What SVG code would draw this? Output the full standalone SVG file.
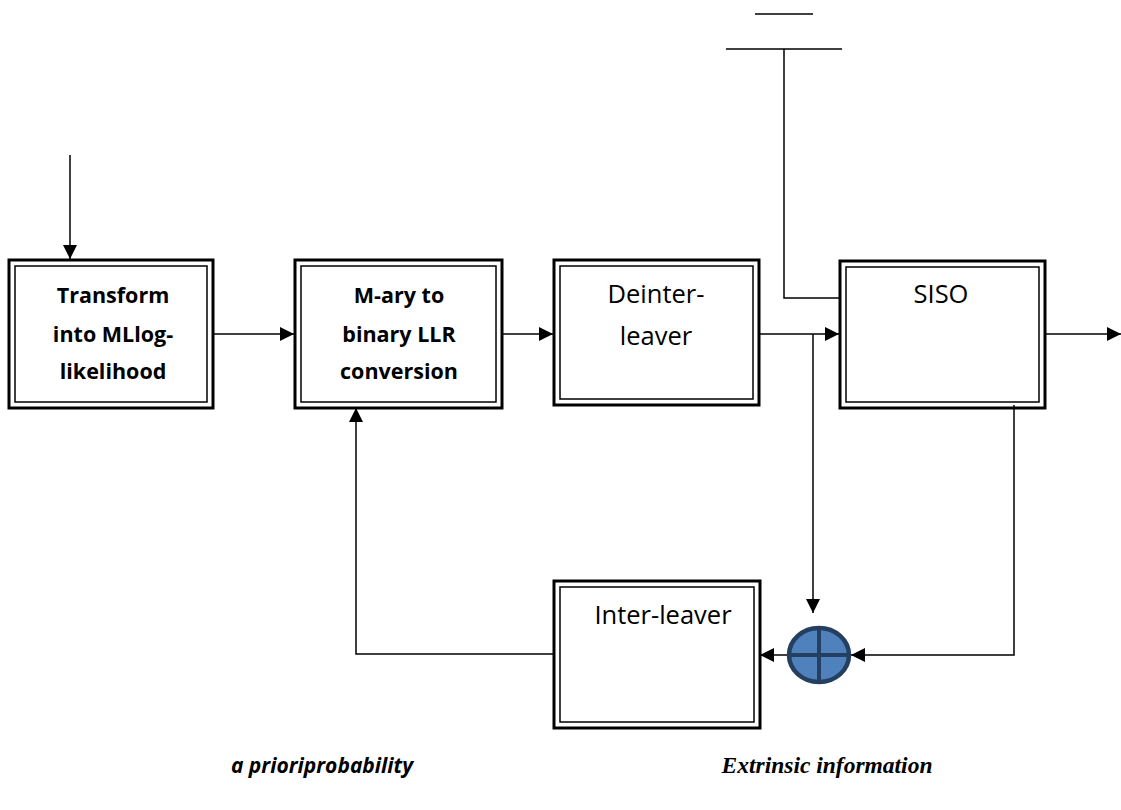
<svg xmlns="http://www.w3.org/2000/svg" width="1121" height="810" viewBox="0 0 1121 810">
<style>
.outer{fill:none;stroke:#000;stroke-width:3}
.inner{fill:none;stroke:#000;stroke-width:1.5}
.ln{fill:none;stroke:#000;stroke-width:1.5}
.b{font-family:"Open Sans","Noto Sans",sans-serif;font-weight:bold;font-size:21.5px;text-anchor:middle;fill:#000}
.r{font-family:"Open Sans","Noto Sans",sans-serif;font-size:25.5px;text-anchor:middle;fill:#000}
</style>
<defs>
<marker id="ah2" viewBox="0 0 10 10" refX="10" refY="5" markerWidth="14" markerHeight="14" markerUnits="userSpaceOnUse" orient="auto">
<path d="M0,0 L10,5 L0,10 z" fill="#000"/>
</marker>
</defs>
<g id="connectors">
<line class="ln" x1="755" y1="14" x2="813" y2="14"/>
<line class="ln" x1="726" y1="49" x2="842" y2="49"/>
<polyline class="ln" points="784,49 784,298 839,298"/>
<line class="ln" x1="70" y1="155" x2="70" y2="259" marker-end="url(#ah2)"/>
<line class="ln" x1="213" y1="334" x2="294" y2="334" marker-end="url(#ah2)"/>
<line class="ln" x1="502" y1="334" x2="553" y2="334" marker-end="url(#ah2)"/>
<line class="ln" x1="759" y1="334" x2="839" y2="334" marker-end="url(#ah2)"/>
<polyline class="ln" points="813,334 813,613" marker-end="url(#ah2)"/>
<line class="ln" x1="1045" y1="334" x2="1121" y2="334" marker-end="url(#ah2)"/>
<polyline class="ln" points="1014,405 1014,655 851,655" marker-end="url(#ah2)"/>
<line class="ln" x1="787" y1="655" x2="760" y2="655" marker-end="url(#ah2)"/>
<polyline class="ln" points="553,654 356,654 356,408" marker-end="url(#ah2)"/>
</g>
<g id="transform">
<rect class="outer" x="9" y="260" width="204" height="148"/>
<rect class="inner" x="15" y="266" width="192" height="136"/>
<text class="b" x="113" y="303">Transform</text>
<text class="b" x="113" y="342">into MLlog-</text>
<text class="b" x="113" y="379">likelihood</text>
</g>
<g id="mary">
<rect class="outer" x="295" y="260" width="207" height="148"/>
<rect class="inner" x="301" y="266" width="195" height="136"/>
<text class="b" x="399" y="303">M-ary to</text>
<text class="b" x="399" y="342">binary LLR</text>
<text class="b" x="399" y="379">conversion</text>
</g>
<g id="deinterleaver">
<rect class="outer" x="554" y="260" width="205" height="145"/>
<rect class="inner" x="560" y="266" width="193" height="133"/>
<text class="r" x="656" y="303">Deinter-</text>
<text class="r" x="656" y="345">leaver</text>
</g>
<g id="siso">
<rect class="outer" x="840" y="261" width="205" height="147"/>
<rect class="inner" x="846" y="267" width="193" height="135"/>
<text class="r" x="941" y="303">SISO</text>
</g>
<g id="interleaver">
<rect class="outer" x="554" y="581" width="206" height="147"/>
<rect class="inner" x="560" y="587" width="194" height="135"/>
<text class="r" x="663" y="624">Inter-leaver</text>
</g>
<g id="adder">
<ellipse cx="819" cy="655" rx="30" ry="27" fill="#4f81bd" stroke="#243f60" stroke-width="4.5"/>
<line x1="819" y1="628" x2="819" y2="682" stroke="#243f60" stroke-width="4"/>
<line x1="789" y1="655" x2="849" y2="655" stroke="#243f60" stroke-width="4"/>
</g>
<g id="labels">
<text x="322" y="773" font-family="'Open Sans','Noto Sans',sans-serif" font-weight="bold" font-style="italic" font-size="21" text-anchor="middle">a prioriprobability</text>
<text x="827" y="773" font-family="'Liberation Serif',serif" font-weight="bold" font-style="italic" font-size="23.5" text-anchor="middle">Extrinsic information</text>
</g>
</svg>
